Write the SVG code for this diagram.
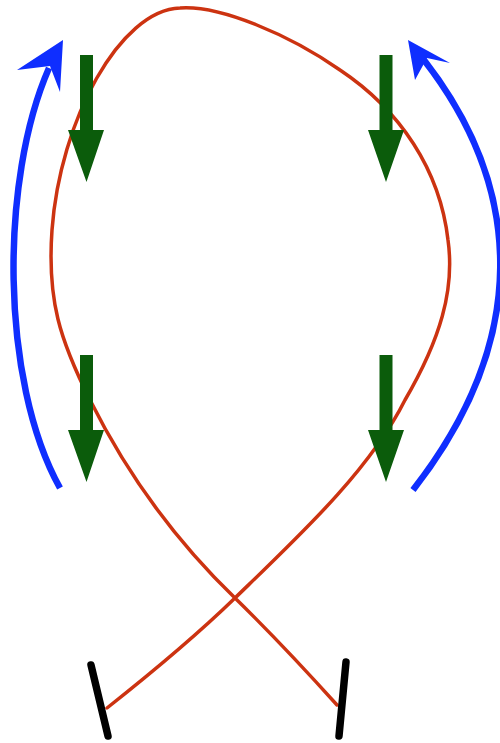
<svg xmlns="http://www.w3.org/2000/svg" width="500" height="743" viewBox="0 0 500 743">
<style>
.red{fill:none;stroke:#cc3311;stroke-width:3.5;stroke-linecap:round}
.blue{fill:none;stroke:#0f2eff;stroke-width:6.5}
.bluehead{fill:#0f2eff}
.green{fill:#0b5c0b}
.bar{stroke:#000;stroke-width:7.5;stroke-linecap:round}
</style>
<rect width="500" height="743" fill="#fff"/>
<g id="connectors">
<path class="red" d="M107,708 C150,674 200,632 235,598 C300,535 370,470 405,400 C440,340 455,290 448,240 C440,170 400,110 340,70 C290,35 220,5 180,8 C120,10 60,120 52,230 C47,300 60,340 90,400 C130,480 180,545 235,598 C280,642 310,675 337,705"/>
</g>
<g id="bar-left"><line class="bar" x1="91" y1="665" x2="108" y2="736"/></g>
<g id="bar-right"><line class="bar" x1="346" y1="662" x2="339" y2="736"/></g>
<g id="force-ul"><polygon class="green" points="80,55 93,55 93,130 104,130 86.5,182 68,130 80,130"/></g>
<g id="force-ur"><polygon class="green" points="379.5,55 392.5,55 392.5,130 404,130 386,182 368,130 379.5,130"/></g>
<g id="force-ll"><polygon class="green" points="80,355 93,355 93,430 104,430 86.5,482 68,430 80,430"/></g>
<g id="force-lr"><polygon class="green" points="379.5,355 392.5,355 392.5,430 404,430 386,482 368,430 379.5,430"/></g>
<g id="arrow-left">
<path class="blue" d="M60,488 C0,380 0,180 49,68"/>
<polygon class="bluehead" points="63,40 60,92 50,66 17,70"/>
</g>
<g id="arrow-right">
<path class="blue" d="M413,490 C530,340 525,190 424,60"/>
<polygon class="bluehead" points="408,40 450,63 427,58 415,80"/>
</g>
</svg>
